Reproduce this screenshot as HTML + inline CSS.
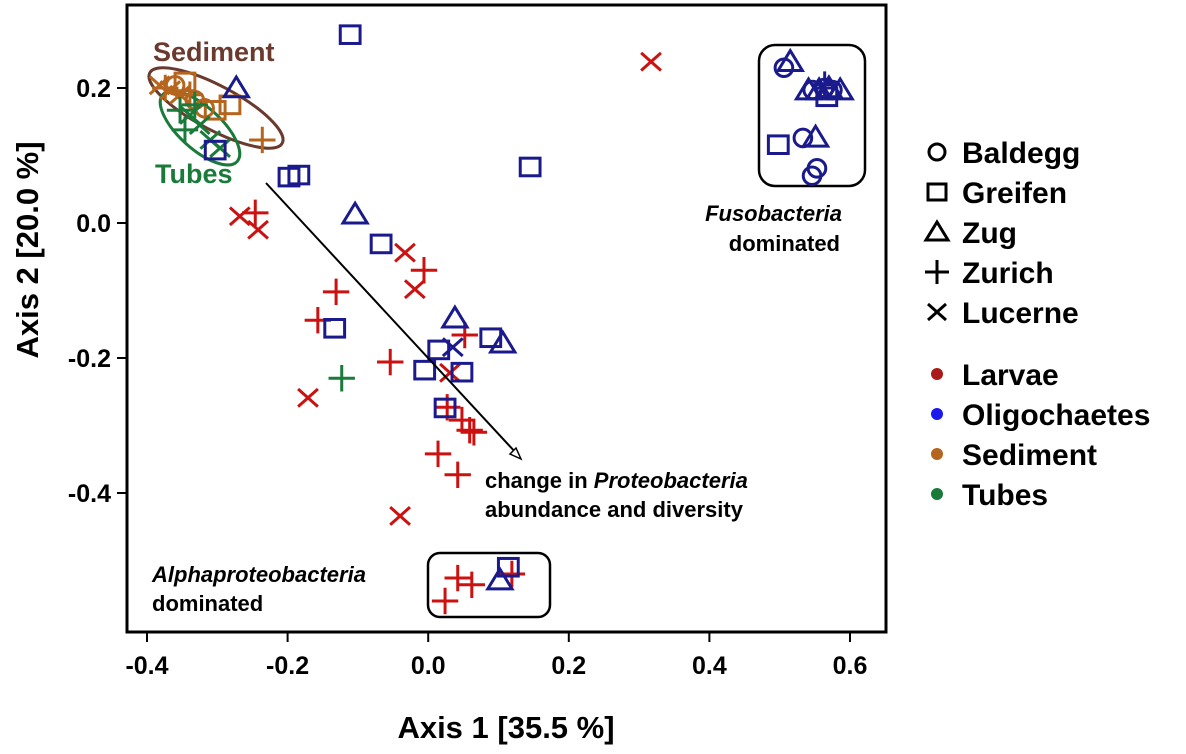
<!DOCTYPE html>
<html><head><meta charset="utf-8"><style>
body{margin:0;background:#fff}
text{font-family:"Liberation Sans",sans-serif;font-weight:bold}
</style></head><body>
<svg id="chart" width="1186" height="749" xmlns="http://www.w3.org/2000/svg">
<rect x="127" y="5" width="759" height="627" fill="none" stroke="#000" stroke-width="3"/>
<g id="axes"></g>
<ellipse cx="216" cy="108" rx="75" ry="22" transform="rotate(28 216 108)" fill="none" stroke="#6b3a2e" stroke-width="3"/>
<ellipse cx="200" cy="128" rx="50" ry="21" transform="rotate(42 200 128)" fill="none" stroke="#1a7a3a" stroke-width="3"/>
<text x="153" y="61" font-size="27" fill="#6b3a2e">Sediment</text>
<text x="155" y="183" font-size="27" fill="#1a7a3a">Tubes</text>
<rect x="759" y="45" width="106" height="141" rx="16" fill="none" stroke="#000" stroke-width="2.5"/>
<rect x="428" y="553" width="122" height="64" rx="12" fill="none" stroke="#000" stroke-width="2.5"/>
<g id="marks"></g>
<line x1="266" y1="183" x2="517" y2="454" stroke="#000" stroke-width="2"/>
<polygon points="521,459 510,454 516,448" fill="#fff" stroke="#000" stroke-width="1.5"/>
<text x="842" y="221" font-size="22" text-anchor="end"><tspan font-style="italic">Fusobacteria</tspan></text>
<text x="840" y="251" font-size="22" text-anchor="end">dominated</text>
<text x="485" y="488" font-size="22">change in <tspan font-style="italic">Proteobacteria</tspan></text>
<text x="485" y="517" font-size="22">abundance and diversity</text>
<text x="152" y="582" font-size="22" font-style="italic">Alphaproteobacteria</text>
<text x="152" y="611" font-size="22">dominated</text>
<text x="506" y="738" font-size="31" text-anchor="middle">Axis 1 [35.5 %]</text>
<text transform="translate(38,250) rotate(-90)" font-size="31" text-anchor="middle">Axis 2 [20.0 %]</text>
<g id="legend"></g>
</svg>
<script>
const xTicks=[-0.4,-0.2,0.0,0.2,0.4,0.6];
const yTicks=[0.2,0.0,-0.2,-0.4];
const xTickLabels=["-0.4","-0.2","0.0","0.2","0.4","0.6"];
const yTickLabels=["0.2","0.0","-0.2","-0.4"];
const groupNames=["Larvae","Oligochaetes","Sediment","Tubes"];
const groupColors=["#cc1111","#1a1a8c","#b5651d","#1a7a3a"];
const lakeNames=["Baldegg","Greifen","Zug","Zurich","Lucerne"];
const larvaeX=[0.317,-0.268,-0.242,-0.033,-0.019,-0.171,0.031,-0.040];
const larvaeXY=[0.239,0.010,-0.010,-0.044,-0.098,-0.259,-0.222,-0.434];
const larvaePX=[-0.246,-0.006,-0.131,-0.157,-0.054,0.052,0.027,0.048,0.059,0.065,0.014,0.042,0.042,0.062,0.024,0.119];
const larvaePY=[0.015,-0.070,-0.102,-0.144,-0.206,-0.166,-0.273,-0.292,-0.307,-0.310,-0.342,-0.373,-0.526,-0.536,-0.560,-0.520];
const oligoSqX=[-0.111,0.145,-0.198,-0.184,-0.067,-0.133,-0.005,0.015,0.048,0.089,0.024,0.114,0.498,0.567,-0.303];
const oligoSqY=[0.279,0.083,0.068,0.071,-0.031,-0.156,-0.218,-0.188,-0.221,-0.170,-0.274,-0.510,0.116,0.187,0.108];
const oligoTriX=[-0.273,-0.104,0.038,0.106,0.102,0.515,0.541,0.586,0.551,0.556,0.570];
const oligoTriY=[0.200,0.013,-0.141,-0.178,-0.529,0.239,0.197,0.197,0.127,0.197,0.200];
const oligoCircX=[0.506,0.533,0.553,0.546,0.547,0.563,0.575];
const oligoCircY=[0.230,0.126,0.081,0.070,0.197,0.200,0.197];
const oligoPlusX=[0.564];
const oligoPlusY=[0.205];
const oligoCrossX=[0.035];
const oligoCrossY=[-0.184];
const sedX=[-0.382,-0.367,-0.353,-0.360,-0.332,-0.318,-0.346,-0.282,-0.303,-0.374,-0.339,-0.236];
const sedY=[0.204,0.197,0.190,0.204,0.182,0.170,0.209,0.175,0.167,0.200,0.190,0.123];
const sedLake=[4,4,4,0,0,0,1,1,1,3,3,3];
const tubeX=[-0.353,-0.339,-0.325,-0.346,-0.310,-0.296,-0.332,-0.123];
const tubeY=[0.167,0.160,0.145,0.138,0.123,0.111,0.175,-0.230];
const tubeLake=[3,4,4,3,4,4,3,3];

const NS="http://www.w3.org/2000/svg";
function sx(v){return 147+(v+0.4)*703;}
function sy(v){return 223-v*675;}
function mk(tag,at,parent){const e=document.createElementNS(NS,tag);for(const k in at)e.setAttribute(k,at[k]);parent.appendChild(e);return e;}
const axes=document.getElementById('axes');
xTicks.forEach((t,i)=>{
  const l=mk('line',{x1:sx(t),x2:sx(t),y1:632,y2:642,stroke:'#000','stroke-width':2},axes);
  
  
  const tx=mk('text',{x:sx(t),y:674,'font-size':25,'text-anchor':'middle'},axes);tx.textContent=xTickLabels[i];
  
  
});
yTicks.forEach((t,i)=>{
  const l=mk('line',{x1:117,x2:127,y1:sy(t),y2:sy(t),stroke:'#000','stroke-width':2},axes);
  
  
  const tx=mk('text',{x:111,y:sy(t)+9,'font-size':25,'text-anchor':'end'},axes);tx.textContent=yTickLabels[i];
  
  
});
function marker(px,py,lake,color,parent,s){
  s=s||11;let e;
  const st={fill:'none',stroke:color,'stroke-width':3};
  if(lake===0)e=mk('circle',Object.assign({cx:px,cy:py,r:s*0.8},st),parent);
  else if(lake===1)e=mk('rect',Object.assign({x:px-s*0.9,y:py-s*0.8,width:s*1.8,height:s*1.6},st),parent);
  else if(lake===2)e=mk('polygon',Object.assign({points:`${px},${py-s} ${px-s*1.1},${py+s*0.8} ${px+s*1.1},${py+s*0.8}`},st),parent);
  else if(lake===3)e=mk('path',Object.assign({d:`M${px-s*1.2},${py}H${px+s*1.2}M${px},${py-s*1.2}V${py+s*1.2}`},st),parent);
  else e=mk('path',Object.assign({d:`M${px-s*0.9},${py-s*0.8}L${px+s*0.9},${py+s*0.8}M${px-s*0.9},${py+s*0.8}L${px+s*0.9},${py-s*0.8}`},st),parent);
  return e;
}
const marks=document.getElementById('marks');
function series(xs,ys,lakeFn,g){
  xs.forEach((v,i)=>{
    const e=marker(sx(v),sy(ys[i]),lakeFn(i),groupColors[g],marks);
    
    
  });
}
series(sedX,sedY,i=>sedLake[i],2);
series(tubeX,tubeY,i=>tubeLake[i],3);
series(larvaeX,larvaeXY,()=>4,0);
series(larvaePX,larvaePY,()=>3,0);
series(oligoSqX,oligoSqY,()=>1,1);
series(oligoTriX,oligoTriY,()=>2,1);
series(oligoCircX,oligoCircY,()=>0,1);
series(oligoPlusX,oligoPlusY,()=>3,1);
series(oligoCrossX,oligoCrossY,()=>4,1);
const lg=document.getElementById('legend');
lakeNames.forEach((n,i)=>{
  const y=152+i*40;
  const m=marker(937,y,i,'#000',lg,10);
  
  
  const t=mk('text',{x:962,y:y+11,'font-size':30},lg);t.textContent=n;
  
  
});
const legCols=["#aa1a1a","#1a1aee","#b5651d","#1a7a3a"];
groupNames.forEach((n,i)=>{
  const y=374+i*40;
  const c=mk('circle',{cx:937,cy:y,r:6,fill:legCols[i]},lg);
  
  
  const t=mk('text',{x:962,y:y+11,'font-size':30},lg);t.textContent=n;
  
  
});
</script>
</body></html>
